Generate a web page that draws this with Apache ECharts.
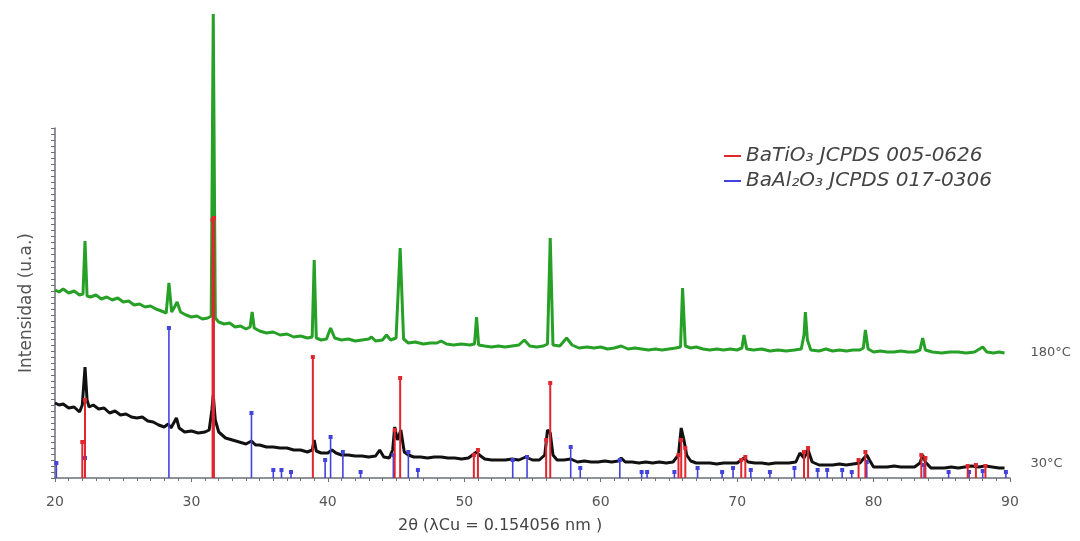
<!DOCTYPE html>
<html>
<head>
<meta charset="utf-8">
<script src="https://cdn.jsdelivr.net/npm/echarts@6/dist/echarts.min.js"></script>
<style>html,body{margin:0;padding:0;background:#fff}#c{width:1080px;height:541px}</style>
</head>
<body>
<div id="c"></div>
<script>
// ---- DATA (2θ in degrees, intensity in arbitrary units) ----
const xTicks = [20, 30, 40, 50, 60, 70, 80, 90];

const pattern180 = [
[20.0,188],[20.3,186],[20.6,189],[21.0,185],[21.4,187],[21.8,183],[22.05,184],[22.2,237],[22.35,182],[22.6,181],
[23.0,183],[23.4,179],[23.8,181],[24.2,178],[24.6,180],[25.0,176],[25.4,177],[25.8,173],[26.2,174],[26.6,171],
[27.0,172],[27.4,169],[27.8,167],[28.15,165],[28.35,195],[28.55,166],[28.8,172],[28.95,176],[29.2,166],[29.6,163],
[30.0,161],[30.4,162],[30.8,159],[31.2,160],[31.45,162],[31.6,464],[31.75,160],[32.0,156],[32.4,154],[32.8,155],
[33.2,151],[33.6,152],[34.0,149],[34.3,151],[34.45,166],[34.6,150],[35.0,147],[35.5,145],[36.0,146],[36.5,143],
[37.0,144],[37.5,141],[38.0,142],[38.5,140],[38.85,141],[39.0,218],[39.15,140],[39.5,138],[39.9,139],[40.2,150],
[40.5,140],[41.0,138],[41.5,139],[42.0,137],[42.5,138],[43.0,139],[43.2,141],[43.5,137],[44.0,138],[44.3,143],
[44.6,138],[45.0,140],[45.3,230],[45.55,139],[45.9,135],[46.4,136],[47.0,134],[47.5,135],[48.0,135],[48.3,137],
[48.7,134],[49.2,133],[49.8,134],[50.4,133],[50.75,134],[50.9,161],[51.05,133],[51.5,132],[52.0,131],[52.5,132],
[53.0,131],[53.5,132],[54.0,133],[54.4,138],[54.8,132],[55.3,131],[55.8,132],[56.1,134],[56.3,240],[56.5,133],
[57.0,132],[57.5,140],[57.9,133],[58.4,130],[59.0,131],[59.5,130],[60.0,131],[60.5,129],[61.0,130],[61.5,132],
[62.0,129],[62.5,130],[63.0,129],[63.5,128],[64.0,129],[64.5,128],[65.0,129],[65.5,130],[65.85,131],[66.0,190],
[66.2,132],[66.6,130],[67.0,131],[67.5,129],[68.0,128],[68.5,129],[69.0,128],[69.5,129],[70.0,128],[70.35,130],
[70.5,143],[70.7,129],[71.2,128],[71.8,129],[72.4,127],[73.0,128],[73.6,127],[74.2,128],[74.7,129],[74.9,143],
[75.0,166],[75.15,138],[75.4,128],[76.0,127],[76.5,129],[77.0,127],[77.5,128],[78.0,127],[78.5,128],[79.0,128],
[79.25,130],[79.4,148],[79.6,129],[80.0,126],[80.5,127],[81.0,126],[81.5,126],[82.0,127],[82.5,126],[83.0,126],
[83.4,128],[83.6,140],[83.8,128],[84.3,126],[85.0,125],[85.6,126],[86.2,126],[86.8,125],[87.4,126],[88.0,131],
[88.3,126],[88.8,125],[89.2,126],[89.6,125]
];

const pattern30 = [
[20.0,75],[20.3,73],[20.6,74],[21.0,70],[21.4,71],[21.8,66],[22.0,73],[22.2,111],[22.35,78],[22.5,71],
[22.8,73],[23.2,69],[23.6,70],[24.0,65],[24.4,67],[24.8,63],[25.2,64],[25.6,61],[26.0,60],[26.4,61],
[26.8,57],[27.2,56],[27.6,53],[28.0,51],[28.3,54],[28.5,50],[28.9,60],[29.1,50],[29.5,46],[30.0,47],
[30.5,45],[31.0,46],[31.3,48],[31.5,68],[31.6,83],[31.75,58],[32.0,46],[32.5,40],[33.0,38],[33.5,36],
[34.0,34],[34.4,37],[34.7,33],[35.0,33],[35.5,31],[36.0,31],[36.5,30],[37.0,30],[37.5,28],[38.0,28],
[38.5,26],[38.85,28],[39.0,38],[39.15,27],[39.5,25],[40.0,25],[40.3,28],[40.6,25],[41.0,23],[41.5,23],
[42.0,22],[42.5,22],[43.0,21],[43.5,22],[43.8,28],[44.1,21],[44.5,20],[44.75,28],[44.9,51],[45.1,38],
[45.35,48],[45.6,26],[45.9,23],[46.3,21],[46.8,21],[47.3,20],[47.8,21],[48.3,21],[48.8,20],[49.3,20],
[49.8,19],[50.3,20],[50.7,24],[50.9,26],[51.1,23],[51.5,19],[52.0,18],[52.5,18],[53.0,18],[53.5,19],
[54.0,18],[54.5,21],[55.0,18],[55.5,18],[55.9,23],[56.1,48],[56.3,45],[56.5,23],[56.8,18],[57.3,18],
[57.8,19],[58.3,16],[58.8,17],[59.3,16],[59.8,16],[60.3,17],[60.8,16],[61.3,17],[61.5,20],[61.8,16],
[62.3,16],[62.8,15],[63.3,16],[63.8,15],[64.3,16],[64.8,15],[65.3,16],[65.7,23],[65.9,50],[66.1,38],
[66.3,23],[66.6,17],[67.0,15],[67.5,15],[68.0,15],[68.5,14],[69.0,15],[69.5,15],[70.0,15],[70.3,18],
[70.5,20],[70.8,16],[71.3,15],[71.8,15],[72.3,14],[72.8,15],[73.3,15],[73.8,15],[74.3,16],[74.6,25],
[74.9,20],[75.2,28],[75.5,16],[76.0,13],[76.5,13],[77.0,13],[77.5,14],[78.0,13],[78.5,14],[79.0,15],
[79.3,20],[79.5,23],[79.7,18],[80.0,11],[80.5,11],[81.0,11],[81.5,12],[82.0,11],[82.5,11],[83.0,11],
[83.4,15],[83.6,23],[83.8,16],[84.2,10],[84.7,10],[85.2,10],[85.7,11],[86.2,10],[86.7,11],[87.2,12],
[87.7,11],[88.2,12],[88.7,11],[89.2,10],[89.6,10]
];

// Reference lines (position 2θ, relative height)
const batio3Ref = [
[22.0,36],[22.2,78],[31.55,258],[31.65,260],[38.9,121],[44.9,48],[45.3,100],[50.7,23],[51.0,28],
[56.0,38],[56.3,95],[65.7,23],[65.9,38],[66.2,30],[70.3,18],[70.6,21],[74.9,26],[75.2,30],
[78.9,18],[79.4,26],[83.5,23],[83.8,20],[86.9,12],[87.5,13],[88.2,12]
];
const baal2o4Ref = [
[20.1,15],[22.2,20],[28.35,150],[34.4,65],[36.0,8],[36.6,8],[37.3,6],[39.8,18],[40.2,41],[41.1,26],
[42.4,6],[44.8,23],[45.9,26],[46.6,8],[53.55,18],[54.6,21],[57.8,31],[58.5,10],[61.4,18],[63.0,6],
[63.4,6],[65.4,6],[67.1,10],[68.9,6],[69.7,10],[71.0,8],[72.4,6],[74.2,10],[75.9,8],[76.6,8],
[77.7,8],[78.4,6],[79.5,16],[83.7,13],[85.5,6],[87.0,6],[88.0,7],[89.7,6]
];

const nameRed = 'BaTiO\u2083 JCPDS 005-0626';
const nameBlue = 'BaAl\u2082O\u2083 JCPDS 017-0306';
const label180 = '180\u00B0C';
const label30 = '30\u00B0C';

// ---- CHART ----
const chart = echarts.init(document.getElementById('c'), null, {renderer: 'canvas'});

function stickRenderer(color, width) {
  return function (params, api) {
    const x = api.value(0), h = api.value(1);
    const p0 = api.coord([x, 0]);
    const p1 = api.coord([x, h]);
    return {
      type: 'group',
      children: [
        {type: 'line', shape: {x1: p0[0], y1: p0[1], x2: p1[0], y2: p1[1]},
         style: {stroke: color, lineWidth: width}},
        {type: 'rect', shape: {x: p1[0] - 2, y: p1[1] - 2, width: 4, height: 4},
         style: {fill: color}}
      ]
    };
  };
}

const RED = '#e0262e', BLUE = '#4242dc', GREEN = '#26a026', BLACK = '#111111';

chart.setOption({
  animation: false,
  backgroundColor: '#ffffff',
  grid: [
    {left: 55, right: 70, top: 10, bottom: 63},
    {left: 55, right: 70, top: 128, bottom: 63}
  ],
  xAxis: [
    {
      gridIndex: 0, type: 'value', min: 20, max: 90, interval: 10,
      axisLine: {show: true, lineStyle: {color: '#6b6f7a', width: 1.5}},
      axisTick: {show: true, length: 4, lineStyle: {color: '#6b6f7a'}},
      minorTick: {show: true, splitNumber: 10, length: 3, lineStyle: {color: '#6b6f7a'}},
      splitLine: {show: false},
      axisLabel: {color: '#555', fontSize: 14, fontFamily: 'DejaVu Sans', margin: 17,
        formatter: v => xTicks.indexOf(v) >= 0 ? String(v) : ''}
    },
    {gridIndex: 1, type: 'value', min: 20, max: 90, show: false}
  ],
  yAxis: [
    {gridIndex: 0, type: 'value', min: 0, max: 468, show: false},
    {
      gridIndex: 1, type: 'value', min: 0, max: 58, interval: 1,
      name: 'Intensidad (u.a.)', nameLocation: 'middle', nameGap: 20, nameRotate: 90,
      nameTextStyle: {color: '#555', fontSize: 17, fontFamily: 'DejaVu Sans'},
      axisLine: {show: true, lineStyle: {color: '#6b6f7a', width: 1.5}},
      axisTick: {show: true, length: 4, lineStyle: {color: '#6b6f7a'}},
      axisLabel: {show: false},
      splitLine: {show: false}
    }
  ],
  legend: {
    left: 719, top: 141, orient: 'vertical', itemGap: 5,
    itemWidth: 17, itemHeight: 2, icon: 'rect',
    data: [nameRed, nameBlue],
    textStyle: {fontSize: 20, fontStyle: 'italic', color: '#444', fontFamily: 'DejaVu Sans'}
  },
  graphic: [
    {type: 'text', left: 398, top: 518,
     style: {text: '2\u03B8 (\u03BBCu = 0.154056 nm )', fill: '#444', fontSize: 16, fontFamily: 'DejaVu Sans'}}
  ],
  series: [
    {
      name: 'empty', type: 'line', xAxisIndex: 1, yAxisIndex: 1, data: [], silent: true
    },
    {
      name: label180, type: 'line', xAxisIndex: 0, yAxisIndex: 0, data: pattern180,
      showSymbol: false, lineStyle: {color: GREEN, width: 3}, itemStyle: {color: GREEN}, z: 2,
      endLabel: {show: true, formatter: label180, distance: 26, color: '#555', fontSize: 13, fontFamily: 'DejaVu Sans'}
    },
    {
      name: label30, type: 'line', xAxisIndex: 0, yAxisIndex: 0, data: pattern30,
      showSymbol: false, lineStyle: {color: BLACK, width: 3}, itemStyle: {color: BLACK}, z: 2,
      endLabel: {show: true, formatter: label30, distance: 26, offset: [0, -4], color: '#555', fontSize: 13, fontFamily: 'DejaVu Sans'}
    },
    {
      name: nameRed, type: 'custom', xAxisIndex: 0, yAxisIndex: 0, data: batio3Ref,
      itemStyle: {color: RED}, renderItem: stickRenderer(RED, 2), z: 5,
      encode: {x: 0, y: 1}
    },
    {
      name: nameBlue, type: 'custom', xAxisIndex: 0, yAxisIndex: 0, data: baal2o4Ref,
      itemStyle: {color: BLUE}, renderItem: stickRenderer(BLUE, 1.6), z: 4,
      encode: {x: 0, y: 1}
    }
  ]
});
</script>
</body>
</html>
